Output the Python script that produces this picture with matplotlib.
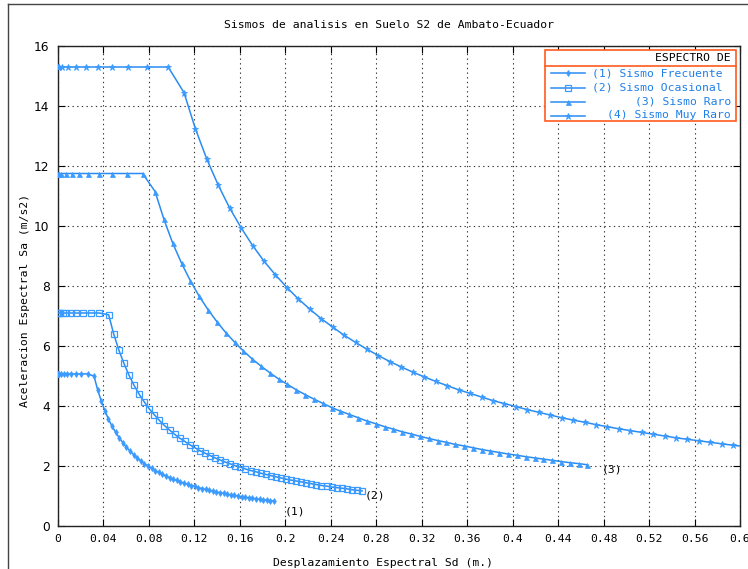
import matplotlib
matplotlib.use("Agg")
import matplotlib.pyplot as plt
from matplotlib.lines import Line2D

# Spectral displacement Sd (m) and spectral acceleration Sa (m/s2) for each earthquake level
sd_frecuente = [0.0, 0.00032, 0.00128, 0.00289, 0.00514, 0.00803, 0.01156, 0.01573, 0.02055, 0.02601, 0.03167,
                0.0348, 0.0380, 0.0412, 0.0443, 0.0475, 0.0507, 0.0538, 0.0570, 0.0602, 0.0633,
                0.0665, 0.0697, 0.0728, 0.0760, 0.0792, 0.0823, 0.0855, 0.0887, 0.0918, 0.0950,
                0.0982, 0.1013, 0.1045, 0.1077, 0.1108, 0.1140, 0.1172, 0.1203, 0.1235, 0.1267,
                0.1298, 0.1330, 0.1362, 0.1393, 0.1425, 0.1457, 0.1488, 0.1520, 0.1552, 0.1583,
                0.1615, 0.1647, 0.1678, 0.1710, 0.1742, 0.1773, 0.1805, 0.1837, 0.1868, 0.1900]
sa_frecuente = [5.07, 5.07, 5.07, 5.07, 5.07, 5.07, 5.07, 5.07, 5.07, 5.07, 5.00,
                4.55, 4.17, 3.85, 3.57, 3.33, 3.13, 2.94, 2.78, 2.63, 2.50,
                2.38, 2.27, 2.17, 2.08, 2.00, 1.92, 1.85, 1.79, 1.72, 1.67,
                1.61, 1.56, 1.52, 1.47, 1.43, 1.39, 1.35, 1.32, 1.28, 1.25,
                1.22, 1.19, 1.16, 1.14, 1.11, 1.09, 1.06, 1.04, 1.02, 1.00,
                0.98, 0.96, 0.94, 0.93, 0.91, 0.89, 0.88, 0.86, 0.85, 0.83]

sd_ocasional = [0.0, 0.00045, 0.00180, 0.00405, 0.00719, 0.01124, 0.01619, 0.02203, 0.02878, 0.03642, 0.04458,
                0.0490, 0.0535, 0.0580, 0.0624, 0.0669, 0.0713, 0.0758, 0.0802, 0.0847, 0.0892,
                0.0936, 0.0981, 0.1025, 0.1070, 0.1115, 0.1159, 0.1204, 0.1248, 0.1293, 0.1337,
                0.1382, 0.1427, 0.1471, 0.1516, 0.1560, 0.1605, 0.1649, 0.1694, 0.1739, 0.1783,
                0.1828, 0.1872, 0.1917, 0.1962, 0.2006, 0.2051, 0.2095, 0.2140, 0.2184, 0.2229,
                0.2274, 0.2318, 0.2363, 0.2407, 0.2452, 0.2496, 0.2541, 0.2586, 0.2630, 0.2675]
sa_ocasional = [7.10, 7.10, 7.10, 7.10, 7.10, 7.10, 7.10, 7.10, 7.10, 7.10, 7.04,
                6.40, 5.87, 5.42, 5.03, 4.69, 4.40, 4.14, 3.91, 3.71, 3.52,
                3.35, 3.20, 3.06, 2.93, 2.82, 2.71, 2.61, 2.51, 2.43, 2.35,
                2.27, 2.20, 2.13, 2.07, 2.01, 1.96, 1.90, 1.85, 1.81, 1.76,
                1.72, 1.68, 1.64, 1.60, 1.56, 1.53, 1.50, 1.47, 1.44, 1.41,
                1.38, 1.35, 1.33, 1.30, 1.28, 1.26, 1.24, 1.21, 1.19, 1.17]

sd_raro = [0.0, 0.00074, 0.00298, 0.00670, 0.0119, 0.0186, 0.0268, 0.0365, 0.0476, 0.0603, 0.0744,
           0.0854, 0.0932, 0.1009, 0.1087, 0.1165, 0.1242, 0.1320, 0.1398, 0.1475, 0.1553,
           0.1630, 0.1708, 0.1786, 0.1863, 0.1941, 0.2019, 0.2096, 0.2174, 0.2252, 0.2329,
           0.2407, 0.2484, 0.2562, 0.2640, 0.2717, 0.2795, 0.2873, 0.2950, 0.3028, 0.3106,
           0.3183, 0.3261, 0.3339, 0.3416, 0.3494, 0.3571, 0.3649, 0.3727, 0.3804, 0.3882,
           0.3960, 0.4037, 0.4115, 0.4193, 0.4270, 0.4348, 0.4425, 0.4503, 0.4581, 0.4658]
sa_raro = [11.75, 11.75, 11.75, 11.75, 11.75, 11.75, 11.75, 11.75, 11.75, 11.75, 11.75,
           11.15, 10.22, 9.43, 8.76, 8.17, 7.66, 7.21, 6.81, 6.45, 6.13,
           5.84, 5.57, 5.33, 5.11, 4.90, 4.72, 4.54, 4.38, 4.23, 4.09,
           3.95, 3.83, 3.72, 3.61, 3.50, 3.41, 3.31, 3.23, 3.14, 3.07,
           2.99, 2.92, 2.85, 2.79, 2.72, 2.67, 2.61, 2.55, 2.50, 2.45,
           2.40, 2.36, 2.31, 2.27, 2.23, 2.19, 2.15, 2.11, 2.08, 2.04]

sd_muy_raro = [0.0, 0.00097, 0.00388, 0.00872, 0.0155, 0.0242, 0.0349, 0.0475, 0.0620, 0.0785, 0.0969,
               0.1108, 0.1208, 0.1309, 0.1410, 0.1510, 0.1611, 0.1712, 0.1812, 0.1913, 0.2014,
               0.2114, 0.2215, 0.2316, 0.2417, 0.2517, 0.2618, 0.2719, 0.2819, 0.2920, 0.3021,
               0.3121, 0.3222, 0.3323, 0.3423, 0.3524, 0.3625, 0.3726, 0.3826, 0.3927, 0.4028,
               0.4128, 0.4229, 0.4330, 0.4430, 0.4531, 0.4632, 0.4732, 0.4833, 0.4934, 0.5035,
               0.5135, 0.5236, 0.5337, 0.5437, 0.5538, 0.5639, 0.5739, 0.5840, 0.5941, 0.6041]
sa_muy_raro = [15.30, 15.30, 15.30, 15.30, 15.30, 15.30, 15.30, 15.30, 15.30, 15.30, 15.30,
               14.45, 13.25, 12.23, 11.36, 10.60, 9.94, 9.35, 8.83, 8.37, 7.95,
               7.57, 7.23, 6.91, 6.63, 6.36, 6.12, 5.89, 5.68, 5.48, 5.30,
               5.13, 4.97, 4.82, 4.68, 4.54, 4.42, 4.30, 4.18, 4.08, 3.98,
               3.88, 3.79, 3.70, 3.61, 3.53, 3.46, 3.38, 3.31, 3.24, 3.18,
               3.12, 3.06, 3.00, 2.94, 2.89, 2.84, 2.79, 2.74, 2.69, 2.65]

series_labels = ["(1) Sismo Frecuente", "(2) Sismo Ocasional", "(3) Sismo Raro", "(4) Sismo Muy Raro"]
end_tags = ["(1)", "(2)", "(3)"]
end_tag_pos = [(0.1996, 0.50), (0.270, 1.03), (0.478, 1.87)]
x_ticks = [0, 0.04, 0.08, 0.12, 0.16, 0.2, 0.24, 0.28, 0.32, 0.36, 0.4, 0.44, 0.48, 0.52, 0.56, 0.6]
x_tick_labels = ["0", "0.04", "0.08", "0.12", "0.16", "0.2", "0.24", "0.28", "0.32", "0.36",
                 "0.4", "0.44", "0.48", "0.52", "0.56", "0.6"]
y_ticks = [0, 2, 4, 6, 8, 10, 12, 14, 16]

MONO = "DejaVu Sans Mono"
FS = 8.2
LINE = "#2a8cf2"
MARK = "#3b9bff"

W, H = 748, 569
fig = plt.figure(figsize=(W / 100, H / 100), dpi=100)
fig.patch.set_facecolor("white")
ax = fig.add_axes([58 / W, 1 - 526 / H, 682 / W, 480 / H])

styles = [
    dict(marker="d", ms=3.0, mfc=MARK, mec=MARK, mew=0.6),
    dict(marker="s", ms=4.3, mfc="none", mec=MARK, mew=0.9),
    dict(marker="^", ms=3.6, mfc=MARK, mec=MARK, mew=0.5),
    dict(marker="*", ms=5.0, mfc=MARK, mec=MARK, mew=0.6),
]
data = [(sd_frecuente, sa_frecuente), (sd_ocasional, sa_ocasional),
        (sd_raro, sa_raro), (sd_muy_raro, sa_muy_raro)]
for (sd, sa), st in zip(data, styles):
    ax.plot(sd, sa, color=LINE, lw=1.1, zorder=3, **st)

for tag, (tx, ty) in zip(end_tags, end_tag_pos):
    ax.text(tx, ty, tag, fontsize=FS, family=MONO, ha="left", va="center", color="black")

ax.set_xlim(0, 0.6)
ax.set_ylim(0, 16)
ax.set_xticks(x_ticks)
ax.set_xticklabels(x_tick_labels, family=MONO, fontsize=FS)
ax.set_yticks(y_ticks)
ax.set_yticklabels([str(v) for v in y_ticks], fontsize=FS + 0.6)
ax.tick_params(direction="in", length=5, width=0.8, top=True, right=True, pad=6, colors="black")
ax.grid(True, color="#333333", linestyle=(0, (1.2, 3.0)), linewidth=0.8)
for sp in ax.spines.values():
    sp.set_color("#222222")
    sp.set_linewidth(1.0)

ax.set_xlabel("Desplazamiento Espectral Sd (m.)", family=MONO, fontsize=FS)
ax.xaxis.set_label_coords((383 - 58) / 682, -(563 - 526) / 480)
ax.xaxis.label.set_va("center")
ax.set_ylabel("Aceleracion Espectral Sa (m/s2)", family=MONO, fontsize=FS)
ax.yaxis.set_label_coords(-(58 - 25) / 682, (526 - 300) / 480)
ax.yaxis.label.set_va("center")

fig.text(389 / W, 1 - 25 / H, "Sismos de analisis en Suelo S2 de Ambato-Ecuador",
         family=MONO, fontsize=FS, ha="center", va="center")

# Legend box drawn in axes pixel-fraction coordinates
def ax_xy(px, py):
    return (px - 58) / 682, (526 - py) / 480

orange = "#ff5a1e"
x0, y0 = ax_xy(545, 121)
x1, y1 = ax_xy(736, 50)
_, ysep = ax_xy(0, 66)
box = plt.Rectangle((x0, y0), x1 - x0, y1 - y0, transform=ax.transAxes, facecolor="white",
                    edgecolor=orange, lw=1.2, zorder=5)
ax.add_patch(box)
ax.add_line(Line2D([x0, x1], [ysep, ysep], transform=ax.transAxes, color=orange, lw=1.2, zorder=6))
tx, ty = ax_xy(731, 58)
ax.text(tx, ty, "ESPECTRO DE", transform=ax.transAxes, family=MONO, fontsize=FS,
        ha="right", va="center", zorder=7)
entry_y = [73, 87.5, 101.5, 115.5]
entry_end = [723, 723, 731, 731]
for lab, st, py, pe in zip(series_labels, styles, entry_y, entry_end):
    lx0, ly = ax_xy(551, py)
    lx1, _ = ax_xy(585, py)
    lxm, _ = ax_xy(568, py)
    ax.add_line(Line2D([lx0, lx1], [ly, ly], transform=ax.transAxes, color=LINE, lw=1.1, zorder=7))
    ax.add_line(Line2D([lxm], [ly], transform=ax.transAxes, color=LINE, lw=0, zorder=8, **st))
    ex, _ = ax_xy(pe, py)
    ax.text(ex, ly, lab, transform=ax.transAxes, family=MONO, fontsize=FS, color="#1f7fe8",
            ha="right", va="center", zorder=7)

# Outer frame (left and top edges)
fig.add_artist(Line2D([8 / W, 8 / W], [0, 1 - 4 / H], color="#444444", lw=1.0))
fig.add_artist(Line2D([8 / W, 1], [1 - 4 / H, 1 - 4 / H], color="#444444", lw=1.0))

fig.savefig("out.png", dpi=100)
